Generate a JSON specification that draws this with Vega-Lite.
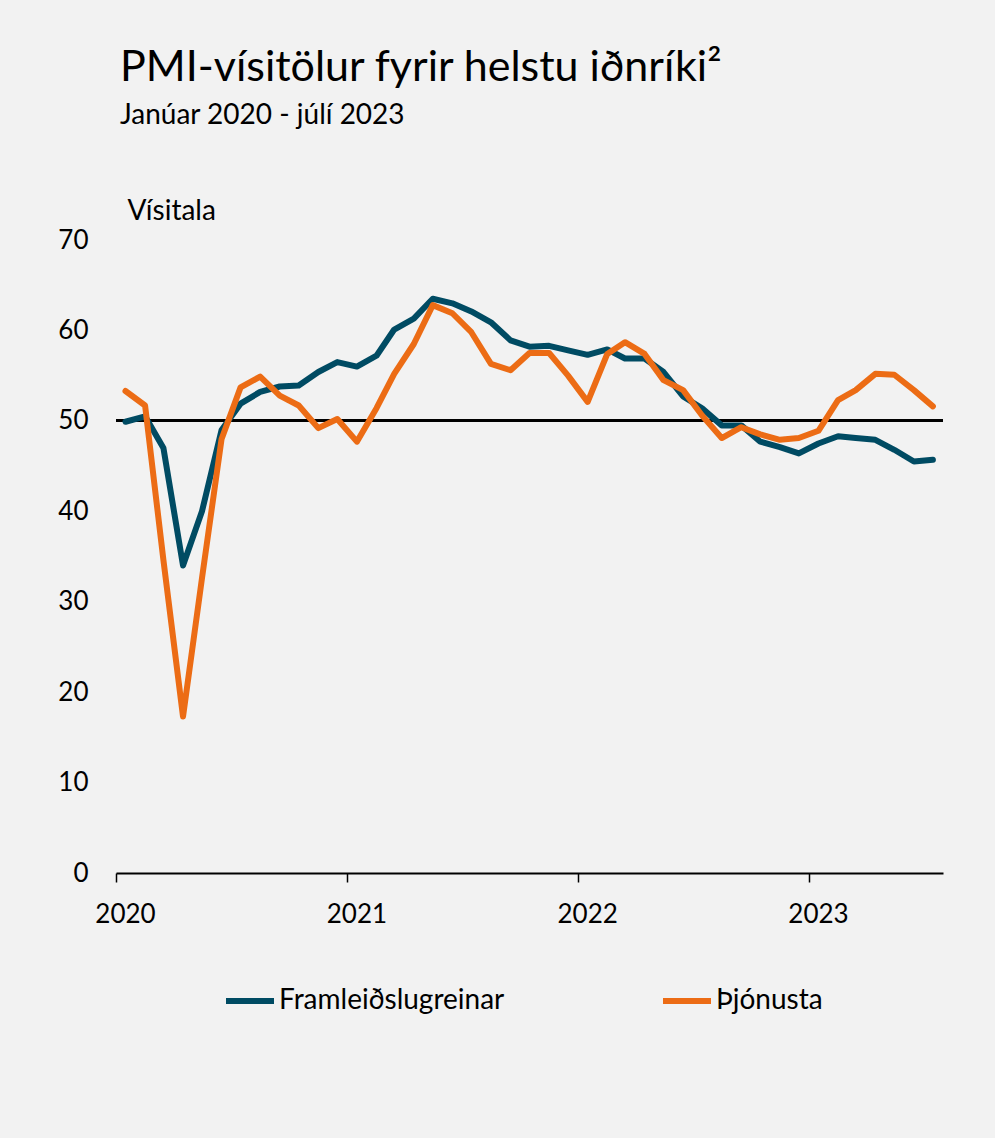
{
  "$schema": "https://vega.github.io/schema/vega-lite/v6.json",
  "width": 827,
  "height": 633,
  "autosize": {"type": "none"},
  "padding": {"left": 116, "top": 240, "right": 52, "bottom": 265},
  "background": "#f2f2f2",
  "title": {
    "text": "PMI-vísitölur fyrir helstu iðnríki²",
    "subtitle": "Janúar 2020 - júlí 2023",
    "anchor": "start",
    "frame": "group",
    "dx": 4,
    "offset": 67,
    "font": "Lato",
    "fontSize": 43,
    "fontWeight": "normal",
    "color": "#000000",
    "subtitleFont": "Lato",
    "subtitleFontSize": 28,
    "subtitleColor": "#000000",
    "subtitlePadding": 12
  },
  "config": {
    "view": {"stroke": null},
    "font": "Lato",
    "axis": {"labelFont": "Lato", "titleFont": "Lato", "labelColor": "#000000", "titleColor": "#000000"}
  },
  "data": {
    "values": [
      {"date": "2020-01-16", "series": "Framleiðslugreinar", "value": 49.9},
      {"date": "2020-02-16", "series": "Framleiðslugreinar", "value": 50.5},
      {"date": "2020-03-16", "series": "Framleiðslugreinar", "value": 47.0},
      {"date": "2020-04-16", "series": "Framleiðslugreinar", "value": 34.0},
      {"date": "2020-05-16", "series": "Framleiðslugreinar", "value": 40.0},
      {"date": "2020-06-16", "series": "Framleiðslugreinar", "value": 49.0},
      {"date": "2020-07-16", "series": "Framleiðslugreinar", "value": 51.9},
      {"date": "2020-08-16", "series": "Framleiðslugreinar", "value": 53.2},
      {"date": "2020-09-16", "series": "Framleiðslugreinar", "value": 53.8},
      {"date": "2020-10-16", "series": "Framleiðslugreinar", "value": 53.9},
      {"date": "2020-11-16", "series": "Framleiðslugreinar", "value": 55.4},
      {"date": "2020-12-16", "series": "Framleiðslugreinar", "value": 56.5},
      {"date": "2021-01-16", "series": "Framleiðslugreinar", "value": 56.0},
      {"date": "2021-02-16", "series": "Framleiðslugreinar", "value": 57.2},
      {"date": "2021-03-16", "series": "Framleiðslugreinar", "value": 60.1},
      {"date": "2021-04-16", "series": "Framleiðslugreinar", "value": 61.3},
      {"date": "2021-05-16", "series": "Framleiðslugreinar", "value": 63.5},
      {"date": "2021-06-16", "series": "Framleiðslugreinar", "value": 63.0},
      {"date": "2021-07-16", "series": "Framleiðslugreinar", "value": 62.1},
      {"date": "2021-08-16", "series": "Framleiðslugreinar", "value": 60.9},
      {"date": "2021-09-16", "series": "Framleiðslugreinar", "value": 58.9},
      {"date": "2021-10-16", "series": "Framleiðslugreinar", "value": 58.2},
      {"date": "2021-11-16", "series": "Framleiðslugreinar", "value": 58.3},
      {"date": "2021-12-16", "series": "Framleiðslugreinar", "value": 57.8},
      {"date": "2022-01-16", "series": "Framleiðslugreinar", "value": 57.3},
      {"date": "2022-02-16", "series": "Framleiðslugreinar", "value": 57.9},
      {"date": "2022-03-16", "series": "Framleiðslugreinar", "value": 56.9},
      {"date": "2022-04-16", "series": "Framleiðslugreinar", "value": 56.9},
      {"date": "2022-05-16", "series": "Framleiðslugreinar", "value": 55.4},
      {"date": "2022-06-16", "series": "Framleiðslugreinar", "value": 52.7},
      {"date": "2022-07-16", "series": "Framleiðslugreinar", "value": 51.4},
      {"date": "2022-08-16", "series": "Framleiðslugreinar", "value": 49.5},
      {"date": "2022-09-16", "series": "Framleiðslugreinar", "value": 49.5},
      {"date": "2022-10-16", "series": "Framleiðslugreinar", "value": 47.7},
      {"date": "2022-11-16", "series": "Framleiðslugreinar", "value": 47.1},
      {"date": "2022-12-16", "series": "Framleiðslugreinar", "value": 46.4},
      {"date": "2023-01-16", "series": "Framleiðslugreinar", "value": 47.5},
      {"date": "2023-02-16", "series": "Framleiðslugreinar", "value": 48.3},
      {"date": "2023-03-16", "series": "Framleiðslugreinar", "value": 48.1},
      {"date": "2023-04-16", "series": "Framleiðslugreinar", "value": 47.9},
      {"date": "2023-05-16", "series": "Framleiðslugreinar", "value": 46.8},
      {"date": "2023-06-16", "series": "Framleiðslugreinar", "value": 45.5},
      {"date": "2023-07-16", "series": "Framleiðslugreinar", "value": 45.7},
      {"date": "2020-01-16", "series": "Þjónusta", "value": 53.3},
      {"date": "2020-02-16", "series": "Þjónusta", "value": 51.7},
      {"date": "2020-03-16", "series": "Þjónusta", "value": 34.6},
      {"date": "2020-04-16", "series": "Þjónusta", "value": 17.3},
      {"date": "2020-05-16", "series": "Þjónusta", "value": 32.6},
      {"date": "2020-06-16", "series": "Þjónusta", "value": 48.0},
      {"date": "2020-07-16", "series": "Þjónusta", "value": 53.7},
      {"date": "2020-08-16", "series": "Þjónusta", "value": 54.9},
      {"date": "2020-09-16", "series": "Þjónusta", "value": 52.8},
      {"date": "2020-10-16", "series": "Þjónusta", "value": 51.7},
      {"date": "2020-11-16", "series": "Þjónusta", "value": 49.2},
      {"date": "2020-12-16", "series": "Þjónusta", "value": 50.2},
      {"date": "2021-01-16", "series": "Þjónusta", "value": 47.7},
      {"date": "2021-02-16", "series": "Þjónusta", "value": 51.4},
      {"date": "2021-03-16", "series": "Þjónusta", "value": 55.2},
      {"date": "2021-04-16", "series": "Þjónusta", "value": 58.5},
      {"date": "2021-05-16", "series": "Þjónusta", "value": 62.8},
      {"date": "2021-06-16", "series": "Þjónusta", "value": 61.9},
      {"date": "2021-07-16", "series": "Þjónusta", "value": 59.8},
      {"date": "2021-08-16", "series": "Þjónusta", "value": 56.3},
      {"date": "2021-09-16", "series": "Þjónusta", "value": 55.6},
      {"date": "2021-10-16", "series": "Þjónusta", "value": 57.5},
      {"date": "2021-11-16", "series": "Þjónusta", "value": 57.5},
      {"date": "2021-12-16", "series": "Þjónusta", "value": 55.0},
      {"date": "2022-01-16", "series": "Þjónusta", "value": 52.1},
      {"date": "2022-02-16", "series": "Þjónusta", "value": 57.4},
      {"date": "2022-03-16", "series": "Þjónusta", "value": 58.7},
      {"date": "2022-04-16", "series": "Þjónusta", "value": 57.4},
      {"date": "2022-05-16", "series": "Þjónusta", "value": 54.5},
      {"date": "2022-06-16", "series": "Þjónusta", "value": 53.4},
      {"date": "2022-07-16", "series": "Þjónusta", "value": 50.6},
      {"date": "2022-08-16", "series": "Þjónusta", "value": 48.1},
      {"date": "2022-09-16", "series": "Þjónusta", "value": 49.3},
      {"date": "2022-10-16", "series": "Þjónusta", "value": 48.5},
      {"date": "2022-11-16", "series": "Þjónusta", "value": 47.9},
      {"date": "2022-12-16", "series": "Þjónusta", "value": 48.1},
      {"date": "2023-01-16", "series": "Þjónusta", "value": 48.9},
      {"date": "2023-02-16", "series": "Þjónusta", "value": 52.3},
      {"date": "2023-03-16", "series": "Þjónusta", "value": 53.4},
      {"date": "2023-04-16", "series": "Þjónusta", "value": 55.2},
      {"date": "2023-05-16", "series": "Þjónusta", "value": 55.1},
      {"date": "2023-06-16", "series": "Þjónusta", "value": 53.4},
      {"date": "2023-07-16", "series": "Þjónusta", "value": 51.6}
    ]
  },
  "layer": [
    {
      "mark": {"type": "rule", "color": "#000000", "strokeWidth": 2},
      "encoding": {"y": {"datum": 50, "type": "quantitative"}}
    },
    {
      "mark": {"type": "line", "strokeWidth": 6, "strokeCap": "round", "strokeJoin": "round"},
      "encoding": {
        "x": {
          "field": "date",
          "type": "temporal",
          "scale": {
            "type": "utc",
            "domain": [
              {"year": 2020, "month": 1, "date": 1, "utc": true},
              {"year": 2023, "month": 8, "date": 1, "utc": true}
            ]
          },
          "axis": {
            "title": null,
            "values": [
              {"year": 2020, "month": 1, "date": 1, "utc": true},
              {"year": 2021, "month": 1, "date": 1, "utc": true},
              {"year": 2022, "month": 1, "date": 1, "utc": true},
              {"year": 2023, "month": 1, "date": 1, "utc": true}
            ],
            "format": "%Y",
            "grid": false,
            "domainColor": "#000000",
            "domainWidth": 2,
            "tickColor": "#000000",
            "tickWidth": 1.5,
            "tickSize": 9,
            "labelFontSize": 26,
            "labelPadding": 19,
            "labelOffset": 9,
            "labelAlign": "center",
            "labelBaseline": "top",
            "labelFlush": false
          }
        },
        "y": {
          "field": "value",
          "type": "quantitative",
          "scale": {"domain": [0, 70], "nice": false},
          "axis": {
            "title": "Vísitala",
            "titleAngle": 0,
            "titleAlign": "left",
            "titleBaseline": "alphabetic",
            "titleX": 11,
            "titleY": -21,
            "titleFontSize": 28,
            "titleFontWeight": "normal",
            "values": [0, 10, 20, 30, 40, 50, 60, 70],
            "domain": false,
            "ticks": false,
            "tickSize": 0,
            "labelPadding": 28,
            "labelFontSize": 26,
            "gridColor": "#c8c8c8",
            "gridDash": [4, 3],
            "gridWidth": 1
          }
        },
        "color": {
          "field": "series",
          "type": "nominal",
          "scale": {
            "domain": ["Framleiðslugreinar", "Þjónusta"],
            "range": ["#004b63", "#ec6c15"]
          },
          "legend": {
            "title": null,
            "orient": "none",
            "direction": "horizontal",
            "legendX": 107,
            "legendY": 734,
            "symbolType": "stroke",
            "symbolSize": 2304,
            "symbolStrokeWidth": 6,
            "labelFontSize": 28,
            "labelFont": "Lato",
            "labelColor": "#000000",
            "labelOffset": 2,
            "labelLimit": 400,
            "columnPadding": 146
          }
        }
      }
    }
  ]
}
